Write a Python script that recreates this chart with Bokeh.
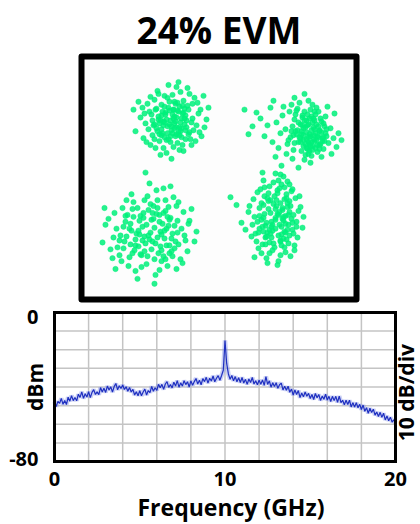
import math
from bokeh.plotting import figure
from bokeh.models import Range1d, FixedTicker, Label, Title
from bokeh.embed import file_html
from bokeh.resources import INLINE

# ---------------- data ----------------
title_text = "24% EVM"

# constellation: cluster centres (I, Q) and per-symbol offsets (dI, -dQ)
cluster_centers = [(-48.5, 57.5), (81.5, 50.5), (-68.5, -52.5), (56.5, -40.5)]

cluster_tl = [
    (-3,5),(12,-8),(-18,14),(7,22),(22,-3),(-9,-17),(1,9),(-25,2),(15,18),(-6,-26),
    (30,-12),(-14,7),(4,-5),(19,11),(-21,-10),(9,29),(-2,-14),(26,4),(-11,20),(13,-21),
    (-30,-4),(5,15),(-16,-22),(21,24),(0,-1),(-8,12),(17,-16),(-27,17),(10,-30),(34,6),
    (-19,-7),(3,26),(8,-10),(-12,-2),(24,-24),(-4,19),(14,3),(-23,-18),(6,-35),(-35,10),
    (18,13),(-1,-20),(11,7),(-15,27),(28,-8),(-7,0),(2,-27),(20,18),(-20,-25),(16,-1),
    (-10,34),(38,-14),(-5,-9),(9,14),(-28,-14),(23,9),(-13,-31),(4,2),(12,24),(-17,4),
    (31,15),(-2,-37),(7,-19),(-24,21),(15,-6),(1,38),(-9,-6),(27,-19),(-32,-20),(10,10),
    (-6,16),(19,-28),(-14,-13),(25,20),(3,-12),(-22,8),(13,30),(-3,-24),(36,-2),(-11,13),
    (8,-40),(-18,-1),(21,1),(0,21),(-26,-8),(14,-13),(-7,27),(29,11),(-16,18),(5,-18),
    (17,-34),(-12,-28),(2,12),(-37,-12),(22,-18),(-4,32),(11,-3),(-20,24),(6,6),(33,-26),
    (-1,3),(6,-4),(-9,8),(3,-12),(10,1),(-5,-7),(8,11),(-12,-5),(0,15),(13,-9),
    (-7,4),(4,7),(-15,-12),(9,-15),(-3,12),(16,6),(-10,-1),(2,-7),(11,16),(-6,-15),
    (5,0),(-13,10),(7,-11),(-2,18),(14,-3),(-8,-10),(1,5),(18,-12),(-11,2),(4,-20),
    (-4,-2),(9,6),(-16,3),(12,-16),(-1,-11),(6,13),(-9,14),(15,9),(-6,1),(3,-3),
]
cluster_tr = [
    (6,4),(10,8),(2,-3),(14,1),(-4,6),(8,14),(12,-6),(0,10),(18,9),(5,-1),
    (-8,-2),(16,12),(3,18),(9,-10),(21,4),(-2,14),(11,2),(7,21),(-10,9),(15,-14),
    (4,-17),(19,17),(-6,-9),(13,7),(1,3),(24,-2),(8,-4),(-13,16),(17,24),(6,11),
    (-3,-20),(22,13),(10,-19),(-15,1),(12,18),(2,-11),(26,8),(-7,22),(14,-8),(5,27),
    (-18,-13),(20,-10),(9,6),(-1,-26),(28,15),(3,7),(-11,-17),(16,-21),(-20,5),(11,28),
    (23,21),(-5,3),(7,-14),(30,0),(-9,-24),(13,11),(-24,-6),(4,32),(18,-17),(-14,26),
    (33,10),(0,-4),(-28,14),(15,20),(8,-28),(-17,-22),(25,-12),(-33,-3),(10,35),(-22,20),
    (36,19),(-6,-31),(19,3),(-40,-10),(1,23),(27,-22),(-12,12),(6,-8),(-30,-21),(13,-1),
    (-48,-2),(21,29),(-36,8),(34,-15),(-2,40),(-52,6),(9,16),(-25,29),(38,5),(-44,-16),
    (17,8),(-19,38),(4,-35),(41,12),(-8,31),(12,-24),(-27,-28),(23,-5),(-56,-19),(31,26),
    (8,9),(14,13),(1,6),(19,2),(4,-8),(22,10),(10,18),(-3,2),(25,5),(6,20),
    (16,-4),(11,14),(-2,-6),(20,16),(3,12),(24,13),(-6,15),(13,-10),(18,-2),(9,23),
    (2,-13),(15,5),(-9,3),(21,-7),(7,-3),(12,22),(-5,-14),(17,17),(0,14),(26,1),
    (5,16),(-1,9),(11,-12),(23,9),(-7,7),(14,-17),(8,26),(19,21),(3,0),(-4,-18),
]
cluster_bl = [
    (4,-2),(-15,10),(20,-12),(-6,22),(11,5),(-25,-8),(28,15),(-2,-20),(15,30),(-19,1),
    (7,-30),(-33,18),(24,-4),(-10,-14),(2,12),(34,6),(-28,-22),(13,-17),(-4,35),(19,24),
    (-14,4),(39,-9),(-37,8),(6,-40),(-21,28),(26,-24),(-8,-3),(16,16),(-45,-5),(9,41),
    (30,30),(-17,-28),(1,-10),(-29,32),(21,9),(-12,17),(44,12),(-3,-34),(12,-6),(-40,20),
    (17,37),(-23,-15),(33,-18),(-6,7),(8,24),(-34,-1),(27,3),(-15,42),(3,-24),(-48,13),
    (23,-33),(-9,26),(14,1),(-26,12),(37,22),(-1,-47),(10,17),(-19,-36),(31,-1),(-36,-17),
    (5,46),(-11,-9),(22,27),(-31,26),(18,-23),(-5,14),(41,-21),(-22,37),(0,3),(26,40),
    (-42,-11),(13,-42),(-16,21),(35,11),(-7,-17),(19,-10),(-30,6),(9,-15),(-13,50),(28,-28),
    (-24,-30),(46,2),(-3,27),(15,-30),(-38,29),(24,19),(-18,-21),(4,55),(32,34),(-27,-3),
    (-5,-58),(11,32),(-46,-22),(20,-44),(-9,38),(38,-6),(-20,15),(7,8),(-35,40),(16,-1),
    (-2,6),(9,-8),(-12,1),(5,14),(-20,-6),(14,9),(-7,-12),(1,20),(18,-4),(-15,16),
    (6,-16),(-24,7),(11,21),(-4,-5),(22,4),(-10,25),(3,-11),(-17,-13),(15,-19),(-8,11),
    (25,12),(0,-26),(-27,19),(10,2),(-13,-22),(19,16),(-1,10),(7,-22),(-21,-1),(13,27),
    (-6,-30),(27,-9),(-31,11),(4,30),(-11,5),(17,-13),(-18,24),(2,-17),(21,22),(-25,-14),
]
cluster_br = [
    (2,-4),(-10,8),(12,-15),(-4,20),(8,3),(-16,-10),(17,12),(-1,-22),(6,28),(-12,0),
    (4,-30),(-20,16),(14,-6),(-7,-17),(0,11),(21,4),(-18,-26),(9,-19),(-3,33),(11,22),
    (-9,5),(25,-11),(-23,7),(3,-38),(-13,27),(16,-27),(-5,-5),(10,15),(-27,-6),(5,38),
    (19,28),(-11,-31),(1,-12),(-17,31),(13,7),(-8,15),(27,10),(-2,-36),(7,-8),(-24,19),
    (10,35),(-14,-15),(20,-20),(-4,9),(5,23),(-21,-1),(16,1),(-9,41),(2,-25),(-30,12),
    (14,-34),(-6,25),(8,-1),(-16,11),(22,20),(0,-45),(6,17),(-12,-38),(18,-3),(-22,-19),
    (3,44),(-7,-9),(13,26),(-19,24),(11,-24),(-3,13),(24,-22),(-14,36),(0,2),(15,39),
    (-26,-12),(8,-42),(-10,20),(21,9),(-5,-18),(12,-11),(-18,4),(5,-15),(-8,46),(17,-29),
    (-15,-29),(28,-1),(-2,26),(9,-31),(-45,-21),(14,18),(-11,-22),(2,48),(19,33),(-39,-13),
    (-13,-46),(5,-44),(-34,5),(12,-37),(-6,36),(23,-7),(-12,14),(4,7),(-21,40),(10,-2),
    (0,0),(7,-10),(-6,12),(3,18),(-11,-4),(10,6),(-2,-14),(5,24),(-8,-20),(13,-3),
    (-4,4),(9,14),(-14,2),(1,-18),(6,9),(-9,19),(15,-12),(-1,30),(4,-6),(-12,-13),
    (11,-20),(-5,16),(8,21),(-16,-2),(2,-28),(12,12),(-7,-25),(17,5),(-3,7),(6,-34),
    (-10,27),(14,-17),(0,-9),(-13,9),(9,30),(3,-3),(-6,-32),(18,16),(-17,15),(7,1),
]

# spectrum: 0 .. 20 GHz in 0.1 GHz steps, power in dBm
freq_step_ghz = 0.1
power_dbm = [
    -47.8, -50.5, -47.7, -48.8, -46.1, -49.3, -47.2, -49.4, -45.5, -47.6,
    -44.6, -47.3, -45.6, -47.4, -43.9, -45.6, -42.6, -46.1, -43.6, -45.4,
    -42.5, -45.7, -42.9, -41.4, -44.0, -42.6, -44.1, -40.3, -42.7, -40.7,
    -42.9, -39.5, -41.6, -39.9, -42.7, -39.8, -38.1, -41.5, -39.3, -40.8,
    -38.9, -41.3, -39.9, -42.3, -40.3, -42.7, -41.3, -44.3, -42.5, -44.7,
    -42.0, -44.7, -42.7, -41.1, -44.3, -41.9, -43.0, -39.7, -42.3, -40.4,
    -41.8, -38.6, -40.4, -38.6, -41.3, -38.4, -37.1, -40.2, -38.7, -40.5,
    -37.4, -39.5, -36.6, -40.1, -37.8, -39.5, -36.6, -38.7, -37.2, -40.0,
    -36.7, -39.1, -37.1, -35.4, -38.4, -36.4, -38.8, -35.5, -37.1, -34.8,
    -37.9, -35.3, -36.8, -34.1, -37.2, -35.3, -33.9, -36.4, -33.8, -31.0,
    -15.0, -27.5, -33.0, -35.9, -33.8, -36.7, -34.4, -37.2, -35.0, -37.6,
    -34.9, -37.9, -35.9, -38.6, -35.7, -37.6, -34.9, -38.4, -36.6, -38.8,
    -36.3, -38.5, -36.2, -39.1, -34.4, -38.6, -36.7, -40.1, -37.7, -39.7,
    -37.7, -40.7, -38.8, -37.9, -41.6, -39.6, -41.8, -39.6, -42.8, -41.1,
    -44.3, -41.6, -44.0, -41.9, -45.7, -43.2, -45.3, -42.7, -45.0, -43.4,
    -46.2, -44.0, -46.7, -43.5, -45.8, -44.0, -47.2, -44.9, -46.6, -43.9,
    -47.0, -45.0, -47.8, -45.0, -47.3, -45.0, -48.2, -44.9, -48.4, -47.1,
    -49.5, -47.1, -49.4, -47.1, -50.7, -48.4, -50.8, -48.4, -51.2, -49.3,
    -52.1, -49.7, -53.0, -51.1, -54.1, -51.4, -53.7, -51.9, -55.1, -53.4,
    -55.8, -53.6, -56.3, -54.1, -57.7, -55.6, -58.1, -56.2, -58.8, -57.6,
    -59.3,
]
freq_limits = [0, 20]          # GHz, plotted span
power_limits = [-80, 0]        # dBm, plotted span
x_tick_values = [0, 10, 20]
# y labels sit at the two ends of the -80..0 dBm scale (slightly inset as in the source figure)
y_tick_values = [-78.4, -2.6]
y_tick_text = {-78.4: "-80", -2.6: "0"}
x_grid_values = [0, 2, 4, 6, 8, 10, 12, 14, 16, 18, 20]
y_grid_values = [-80, -70, -60, -50, -40, -30, -20, -10, 0]
x_label = "Frequency (GHz)"
y_label = "dBm"
right_label = "10 dB/div"

FONT = "Open Sans"

# ---------------- constellation ----------------
sym_i, sym_q = [], []
for (cx, cy), pts in zip(cluster_centers, [cluster_tl, cluster_tr, cluster_bl, cluster_br]):
    for dx, dy in pts:
        sym_i.append(cx + dx)
        sym_q.append(cy - dy)

p1 = figure(width=420, height=303, x_range=Range1d(-137.5, 137.5), y_range=Range1d(-123.5, 123.5),
            x_axis_type=None, y_axis_type=None, output_backend="svg", toolbar_location=None,
            min_border_left=81, min_border_right=64, min_border_top=52, min_border_bottom=4)
p1.grid.visible = False
p1.outline_line_color = "black"
p1.outline_line_width = 6
p1.outline_line_join = "round"
p1.background_fill_color = "#fdfdfd"
p1.border_fill_color = "white"
p1.title.text = title_text
p1.title.align = "center"
p1.title.text_font = FONT
p1.title.text_font_style = "bold"
p1.title.text_font_size = "37px"
p1.title.text_color = "black"
p1.title.standoff = 3
p1.scatter(sym_i, sym_q, size=5.4, fill_color="#00F07A", line_color="#00F07A", line_width=0.5, alpha=0.85)

# ---------------- spectrum ----------------
freq = [i * freq_step_ghz for i in range(len(power_dbm))]

# the drawing area runs a little past the 0..20 GHz / -80..0 dBm box so that the box border and
# the right-hand "10 dB/div" note are not clipped
p2 = figure(width=420, height=221, x_range=Range1d(-0.117, 21.466), y_range=Range1d(-81.07, 1.07),
            output_backend="svg", toolbar_location=None,
            min_border_left=52, min_border_right=0, min_border_top=7, min_border_bottom=61)
p2.background_fill_color = "white"
p2.border_fill_color = "white"
p2.outline_line_color = None
p2.grid.visible = False

p2.xaxis.ticker = FixedTicker(ticks=x_tick_values)
p2.yaxis.ticker = FixedTicker(ticks=y_tick_values)
p2.yaxis.major_label_overrides = y_tick_text
for ax in (p2.xaxis[0], p2.yaxis[0]):
    ax.axis_line_color = None
    ax.major_tick_line_color = None
    ax.minor_tick_line_color = None
    ax.major_label_text_font = FONT
    ax.major_label_text_font_style = "bold"
    ax.major_label_text_font_size = "20px"
    ax.major_label_text_color = "black"
    ax.axis_label_text_font = FONT
    ax.axis_label_text_font_style = "bold"
    ax.axis_label_text_font_size = "21px"
    ax.axis_label_text_color = "black"
p2.xaxis.major_label_standoff = 2
p2.yaxis.major_label_standoff = 8
p2.yaxis.axis_label = y_label
p2.yaxis.axis_label_standoff = -43

p2.add_layout(Title(text=x_label, align="left", offset=85, standoff=0, text_font=FONT,
                    text_font_style="bold", text_font_size="23px", text_color="black"), "below")

# grid
n_v, n_h = len(x_grid_values), len(y_grid_values)
p2.segment(x0=x_grid_values, x1=x_grid_values, y0=[power_limits[0]] * n_v, y1=[power_limits[1]] * n_v,
           line_color="#c4c4c4", line_width=1.5)
p2.segment(x0=[freq_limits[0]] * n_h, x1=[freq_limits[1]] * n_h, y0=y_grid_values, y1=y_grid_values,
           line_color="#c4c4c4", line_width=1.5)

# trace
p2.line(freq, power_dbm, color="#8a96e8", line_width=4.5, alpha=0.45)
p2.line(freq, power_dbm, color="#1f30c0", line_width=1.2)

# plot box
p2.quad(left=[freq_limits[0]], right=[freq_limits[1]], bottom=[power_limits[0]], top=[power_limits[1]],
        fill_color=None, line_color="black", line_width=3, line_join="miter")

p2.add_layout(Label(x=20.62, y=-43.0, text=right_label, angle=math.pi / 2, text_align="center",
                    text_baseline="middle", text_font=FONT, text_font_style="bold",
                    text_font_size="21px", text_color="black"))

open("out.html", "w").write(file_html([p1, p2], INLINE))
